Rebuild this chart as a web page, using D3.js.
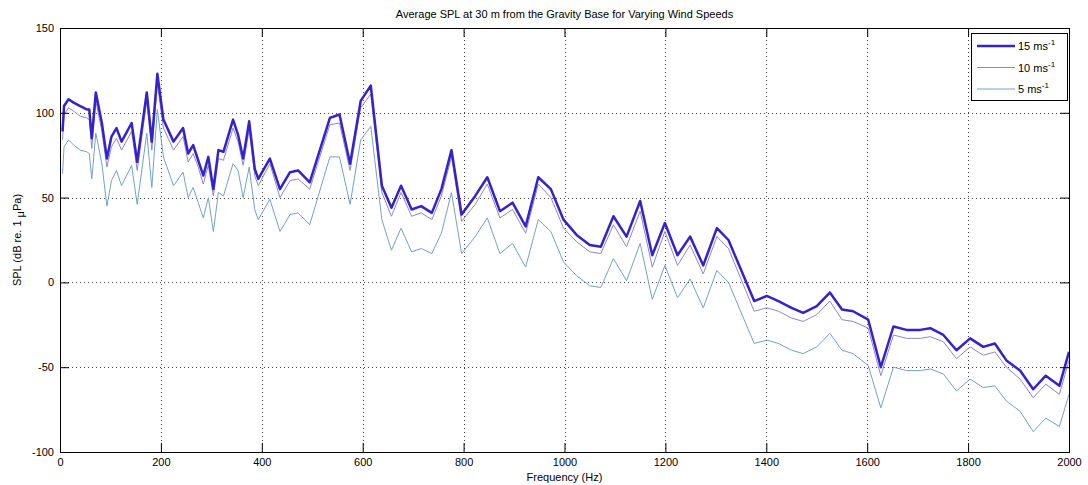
<!DOCTYPE html>
<html>
<head>
<meta charset="utf-8">
<script src="https://cdn.jsdelivr.net/npm/d3@7"></script>
<style>
	body { margin: 0; background: #ffffff; }
	text { font-family: "Liberation Sans", Arial, sans-serif; fill: #000; }
</style>
</head>
<body>
<script>

// frequency of every sample point (Hz)
var freqs = [5, 8, 17, 27, 40, 53, 58, 63, 71, 83, 93, 102, 112, 122, 142, 153, 172, 182, 193, 205,
	225, 244, 254, 264, 274, 284, 294, 304, 314, 324, 343, 353, 363, 375, 386, 393, 416, 436, 456, 472,
	495, 535, 554, 575, 596, 616, 638, 657, 676, 697, 716, 737, 756, 776, 796, 823, 847, 872, 897, 923,
	948, 973, 998, 1024, 1050, 1072, 1097, 1123, 1150, 1174, 1199, 1224, 1249, 1275, 1302, 1325, 1376, 1401, 1424, 1450,
	1473, 1500, 1526, 1550, 1572, 1602, 1627, 1652, 1678, 1705, 1725, 1751, 1777, 1804, 1830, 1853, 1876, 1903, 1929, 1954,
	1981, 2000];

// SPL for 15 m/s wind
var spl15 = [89, 104, 108, 106, 104, 102, 102, 85, 112, 94, 73, 86, 91, 83, 94, 71, 112, 83, 123, 96,
	83, 91, 76, 81, 72, 63, 74, 55, 78, 77, 96, 87, 73, 95, 67, 61, 73, 55, 65, 66,
	59, 97, 99, 70, 107, 116, 57, 44, 57, 43, 45, 41, 55, 78, 40, 51, 62, 42, 47, 33,
	62, 55, 37, 28, 22, 21, 39, 27, 48, 16, 35, 16, 27, 10, 32, 25, -11, -8, -11, -15,
	-18, -14, -6, -16, -17, -22, -50, -26, -28, -28, -27, -31, -40, -33, -38, -36, -46, -52, -63, -55,
	-61, -41];

// SPL for 10 m/s wind
var spl10 = [84, 99, 103, 101, 98, 97, 96, 79, 107, 89, 68, 80, 85, 78, 89, 66, 107, 78, 117, 91,
	78, 86, 71, 76, 68, 58, 69, 51, 73, 72, 91, 83, 69, 90, 63, 57, 70, 50, 60, 61,
	55, 93, 94, 66, 103, 111, 53, 39, 53, 39, 41, 37, 51, 74, 36, 46, 58, 38, 43, 29,
	58, 50, 32, 24, 18, 17, 34, 21, 42, 9, 30, 10, 22, 5, 27, 20, -17, -15, -17, -21,
	-23, -19, -11, -22, -23, -27, -55, -31, -33, -33, -32, -35, -45, -38, -43, -41, -50, -57, -68, -60,
	-66, -46];

// SPL for 5 m/s wind
var spl5 = [64, 80, 84, 81, 78, 77, 76, 61, 88, 70, 45, 60, 66, 57, 69, 46, 88, 56, 102, 74,
	57, 65, 50, 56, 47, 38, 50, 30, 53, 51, 70, 66, 50, 68, 43, 37, 49, 30, 40, 41,
	34, 74, 74, 46, 84, 92, 37, 19, 32, 18, 20, 17, 29, 53, 17, 27, 38, 17, 23, 9,
	37, 30, 12, 4, -2, -3, 14, 1, 23, -10, 10, -9, 2, -15, 7, 0, -36, -34, -36, -40,
	-42, -38, -30, -40, -42, -49, -74, -50, -52, -52, -51, -54, -64, -57, -62, -61, -70, -76, -88, -80,
	-85, -66];

// axis ticks and legend
var xTicks = [0, 200, 400, 600, 800, 1000, 1200, 1400, 1600, 1800, 2000];
var yTicks = [-100, -50, 0, 50, 100, 150];
var legendNames = ["15 ms", "10 ms", "5 ms"];

window.onload = function() {
	drawChart();
};

/**
* draws the whole figure
**/
function drawChart() {

	var width = 1088;
	var height = 485;
	var plot = {left: 60, right: 1069, top: 28, bottom: 452};
	var tickLen = 9;

	// plain numbers, no thousands comma and an ascii minus
	var plainFormat = function(d){ return String(d); };

	var svg = d3.select("body")
				.append("svg")
				.attr("width", width)
				.attr("height", height);

	var xScale = d3.scaleLinear()
				   .domain([0, 2000])
				   .range([plot.left, plot.right]);

	var yScale = d3.scaleLinear()
				   .domain([-100, 150])
				   .range([plot.bottom, plot.top]);

	// dotted grid
	var grid = svg.append("g");
	grid.selectAll(".gx")
		.data(xTicks.slice(1, -1))
		.enter()
		.append("line")
		.attr("x1", function(d){ return Math.round(xScale(d)) + 0.5; })
		.attr("x2", function(d){ return Math.round(xScale(d)) + 0.5; })
		.attr("y1", plot.top)
		.attr("y2", plot.bottom)
		.style("stroke", "#444")
		.style("stroke-width", 1)
		.style("stroke-dasharray", "1,3");

	grid.selectAll(".gy")
		.data(yTicks.slice(1, -1))
		.enter()
		.append("line")
		.attr("y1", function(d){ return Math.round(yScale(d)) + 0.5; })
		.attr("y2", function(d){ return Math.round(yScale(d)) + 0.5; })
		.attr("x1", plot.left)
		.attr("x2", plot.right)
		.style("stroke", "#444")
		.style("stroke-width", 1)
		.style("stroke-dasharray", "1,3");

	// the three series
	var series = [
		{values: spl5, color: "#72a2cc", width: 1},
		{values: spl10, color: "#8c88c8", width: 1},
		{values: spl15, color: "#3422cc", width: 2.5}
	];

	var line = d3.line()
				 .x(function(d){ return xScale(d[0]); })
				 .y(function(d){ return yScale(d[1]); });

	svg.append("g")
	   .selectAll("path")
	   .data(series)
	   .enter()
	   .append("path")
	   .attr("d", function(s){ return line(d3.zip(freqs, s.values)); })
	   .style("fill", "none")
	   .style("stroke", function(s){ return s.color; })
	   .style("stroke-width", function(s){ return s.width; })
	   .style("stroke-linejoin", "round");

	// axes, ticks pointing inwards like matlab
	var xAxis = svg.append("g")
				   .attr("transform", "translate(0," + plot.bottom + ")")
				   .call(d3.axisBottom(xScale).tickValues(xTicks).tickFormat(plainFormat).tickSizeInner(-tickLen).tickSizeOuter(0).tickPadding(6));

	var xTop = svg.append("g")
				  .attr("transform", "translate(0," + plot.top + ")")
				  .call(d3.axisTop(xScale).tickValues(xTicks).tickSizeInner(-tickLen).tickSizeOuter(0).tickFormat(""));

	var yAxis = svg.append("g")
				   .attr("transform", "translate(" + plot.left + ",0)")
				   .call(d3.axisLeft(yScale).tickValues(yTicks).tickFormat(plainFormat).tickSizeInner(-tickLen).tickSizeOuter(0).tickPadding(6));

	var yRight = svg.append("g")
					.attr("transform", "translate(" + plot.right + ",0)")
					.call(d3.axisRight(yScale).tickValues(yTicks).tickSizeInner(-tickLen).tickSizeOuter(0).tickFormat(""));

	svg.selectAll(".domain, .tick line").style("stroke", "#000");
	svg.selectAll(".tick text")
	   .style("font-size", "11px")
	   .style("font-family", "'Liberation Sans', Arial, sans-serif");

	// box round the plot
	svg.append("rect")
	   .attr("x", plot.left + 0.5)
	   .attr("y", plot.top + 0.5)
	   .attr("width", plot.right - plot.left)
	   .attr("height", plot.bottom - plot.top)
	   .style("fill", "none")
	   .style("stroke", "#000")
	   .style("stroke-width", 1);

	// title
	svg.append("text")
	   .attr("x", (plot.left + plot.right) / 2)
	   .attr("y", 18)
	   .style("text-anchor", "middle")
	   .style("font-size", "11px")
	   .text("Average SPL at 30 m from the Gravity Base for Varying Wind Speeds");

	// x label
	svg.append("text")
	   .attr("x", (plot.left + plot.right) / 2)
	   .attr("y", 481)
	   .style("text-anchor", "middle")
	   .style("font-size", "11px")
	   .text("Frequency (Hz)");

	// y label
	var yLabel = svg.append("text")
					.attr("transform", "translate(21," + ((plot.top + plot.bottom) / 2) + ") rotate(-90)")
					.style("text-anchor", "middle")
					.style("font-size", "11px");
	yLabel.append("tspan").text("SPL (dB re. 1 ");
	yLabel.append("tspan").attr("dy", 3).text("μ");
	yLabel.append("tspan").attr("dy", -3).text("Pa)");

	// legend
	var legend = svg.append("g");
	legend.append("rect")
		  .attr("x", 971.5)
		  .attr("y", 33.5)
		  .attr("width", 96)
		  .attr("height", 67)
		  .style("fill", "#fff")
		  .style("stroke", "#000")
		  .style("stroke-width", 1);

	var legendSeries = [series[2], series[1], series[0]];
	var rows = legend.selectAll(".row")
					 .data(legendSeries)
					 .enter()
					 .append("g")
					 .attr("transform", function(d, i){ return "translate(0," + (46 + i * 21.5) + ")"; });

	rows.append("line")
		.attr("x1", 977)
		.attr("x2", 1015)
		.attr("y1", 0)
		.attr("y2", 0)
		.style("stroke", function(d){ return d.color; })
		.style("stroke-width", function(d){ return d.width; });

	var labels = rows.append("text")
					 .attr("x", 1018)
					 .attr("y", 4)
					 .style("font-size", "11px");
	labels.append("tspan").text(function(d, i){ return legendNames[i]; });
	labels.append("tspan")
		  .attr("dy", -5)
		  .style("font-size", "8px")
		  .text("-1");
}

</script>
</body>
</html>
